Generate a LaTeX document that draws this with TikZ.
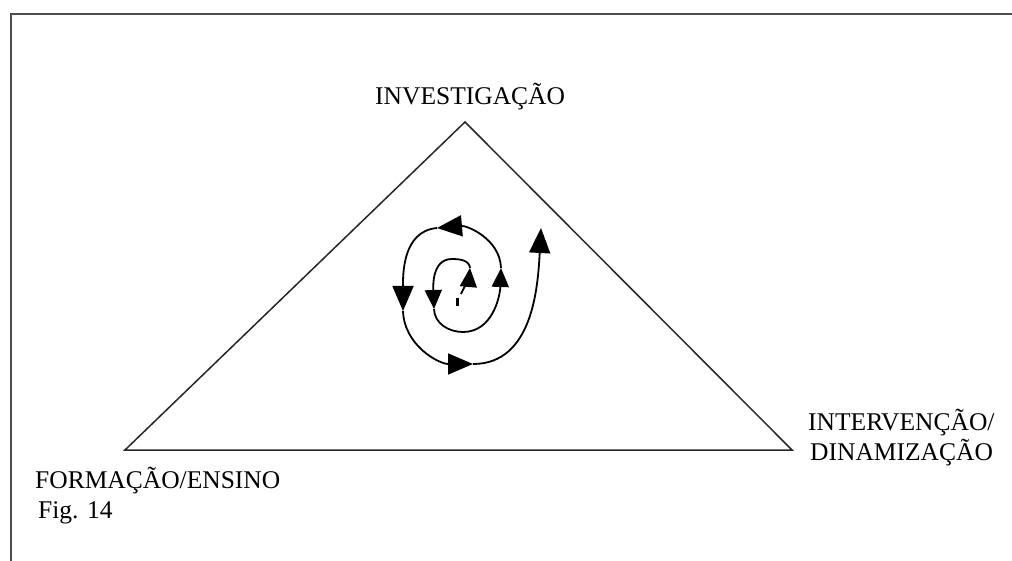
\documentclass[tikz,border=0pt]{standalone}
\usepackage{fontspec}
\setmainfont{Liberation Serif}
\usetikzlibrary{arrows.meta}
\begin{document}
\begin{tikzpicture}[x=1pt,y=-1pt,
  frameline/.style={draw=black!70, line width=1.8pt},
  triline/.style={draw=black!85, line width=1.5pt, line join=miter},
  spiral/.style={draw=black, line width=1.8pt},
  innerarrow/.style={spiral, -{Triangle[length=19pt,width=17pt]}},
  outerarrow/.style={spiral, -{Triangle[length=25pt,width=21pt]}},
  label/.style={inner sep=0pt, anchor=base west, font=\fontsize{25.5}{30}\selectfont}]
\useasboundingbox (0,0) rectangle (1012,561);
% frame
\coordinate (fb) at (11,561);
\coordinate (fc) at (11,14);
\coordinate (fr) at (1012,14);
\draw[frameline] (fb) -- (fc) -- (fr);
% triangle
\coordinate (T) at (465,122);
\coordinate (L) at (125,450);
\coordinate (R) at (792,450);
\draw[triline] (L) -- (T) -- (R) -- cycle;
% labels
\node[label] (inv) at (375,105) {INVESTIGAÇÃO};
\node[label] (form) at (35,488) {FORMAÇÃO/ENSINO};
\node[label] (fig) at (38,518) {Fig. 14};
\node[label] (int) at (808,430) {INTERVENÇÃO/};
\node[label] (din) at (810,460) {DINAMIZAÇÃO};
% spiral
\coordinate (d0) at (457,298);
\coordinate (d1) at (457,306);
\coordinate (s0) at (461,294);
\coordinate (s1) at (470,268);
\coordinate (s1a) at (452,259);
\coordinate (s2) at (434,309);
\coordinate (s2a) at (463,332);
\coordinate (s3) at (501,268);
\coordinate (s4) at (437,228);
\coordinate (s5) at (403,311);
\coordinate (s6) at (473,364);
\coordinate (s7) at (541,228);
\draw[spiral, line width=3pt] (d0) -- (d1);
\draw[innerarrow] (s0) to[out=65,in=-95] (s1);
\draw[innerarrow] (s1) to[out=95,in=0] (s1a) to[out=180,in=92] (s2);
\draw[innerarrow] (s2) to[out=-88,in=180] (s2a) to[out=0,in=-92] (s3);
\draw[outerarrow] (s3) to[out=92,in=5] (s4);
\draw[outerarrow] (s4) to[out=185,in=90] (s5);
\draw[outerarrow] (s5) to[out=-88,in=180] (s6);
\draw[outerarrow] (s6) to[out=0,in=-93] (s7);
\end{tikzpicture}
\end{document}
